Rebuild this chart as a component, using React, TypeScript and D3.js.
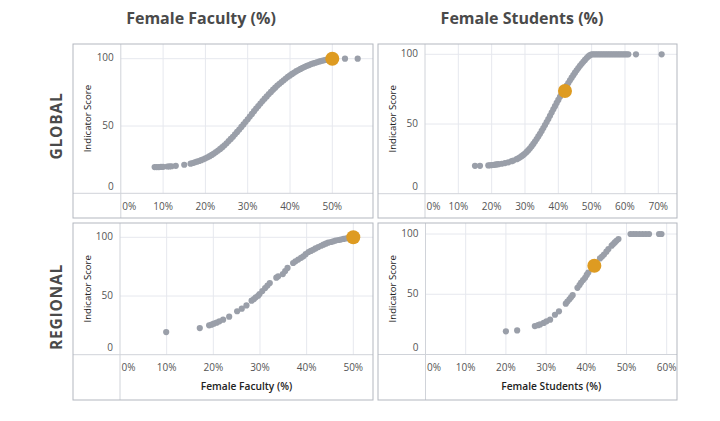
import React from 'react';
import * as d3 from 'd3';

// ---------- data ----------
const globalFacultyX = [8, 8.5, 9, 9.5, 10, 11, 11.5, 12, 13, 15, 16.5, 17, 17.5, 18, 18.5, 19, 19.5, 20, 20.5, 21, 21.5, 22, 22.5, 23, 23.5, 24, 24.5, 25, 25.5, 26, 26.5, 27, 27.5, 28, 28.5, 29, 29.5, 30, 30.5, 31, 31.5, 32, 32.5, 33, 33.5, 34, 34.5, 35, 35.5, 36, 36.5, 37, 37.5, 38, 38.5, 39, 39.5, 40, 40.5, 41, 41.5, 42, 42.5, 43, 43.5, 44, 44.5, 45, 45.5, 46, 46.5, 47, 47.5, 48, 48.5, 49, 49.5, 53, 56];
const globalFacultyY = [19.5, 19.5, 19.5, 19.6, 19.7, 19.9, 20, 20.1, 20.4, 21.2, 22, 22.5, 23, 23.5, 24, 24.6, 25.3, 26, 26.8, 27.6, 28.5, 29.5, 30.6, 31.8, 33, 34.3, 35.7, 37.2, 38.8, 40.4, 42, 43.8, 45.6, 47.4, 49.3, 51.2, 53.1, 55, 57, 59, 61, 63, 64.8, 66.7, 68.5, 70.3, 72, 73.7, 75.3, 77, 78.5, 80, 81.4, 82.7, 84, 85.3, 86.5, 87.6, 88.7, 89.7, 90.7, 91.6, 92.4, 93.2, 94, 94.7, 95.3, 96, 96.5, 97, 97.5, 98, 98.4, 98.8, 99.1, 99.4, 99.7, 100, 100];

const globalStudentsX = [15, 16.5, 19, 19.5, 20, 20.5, 21, 21.5, 22, 23, 24, 25, 26, 26.5, 27.5, 28, 28.5, 29, 29.5, 30, 30.5, 31, 31.5, 32, 32.5, 33, 33.5, 34, 34.5, 35, 35.5, 36, 36.5, 37, 37.5, 38, 38.5, 39, 39.5, 40, 40.5, 41, 41.5, 42.5, 43, 43.5, 44, 44.5, 45, 45.5, 46, 46.5, 47, 47.5, 48, 48.5, 49, 49.5, 50, 50.5, 51, 51.5, 52, 52.5, 53, 53.5, 54, 54.5, 55, 55.5, 56, 56.5, 57, 57.5, 58, 58.5, 59, 59.5, 60, 60.5, 61, 63.3, 71];
const globalStudentsY = [20, 20, 20.3, 20.4, 20.5, 20.6, 20.8, 21, 21.2, 21.5, 22, 22.5, 23.3, 23.8, 24.8, 25.4, 26.1, 26.9, 27.8, 28.8, 30, 31.2, 32.6, 34.1, 35.7, 37.4, 39.2, 41.1, 43, 45, 47.1, 49.2, 51.4, 53.6, 55.9, 58.2, 60.5, 62.8, 65.1, 67.3, 69.5, 71.6, 73.6, 77.5, 79.4, 81.3, 83.2, 85, 86.8, 88.5, 90.1, 91.7, 93.2, 94.6, 96, 97.3, 98.5, 99.4, 100, 100, 100, 100, 100, 100, 100, 100, 100, 100, 100, 100, 100, 100, 100, 100, 100, 100, 100, 100, 100, 100, 100, 100, 100];

const regionalFacultyX = [9.9, 17.1, 19.1, 19.6, 20.1, 20.7, 21.3, 22.1, 23.4, 25.1, 26.1, 27.1, 28.2, 28.7, 29.1, 29.6, 29.9, 30.5, 31.1, 31.6, 32.1, 33.5, 33.9, 34.9, 35.4, 35.9, 37.1, 37.6, 38.2, 38.8, 39.3, 39.8, 40.4, 40.9, 41.4, 41.9, 42.5, 43.1, 43.6, 44.1, 44.6, 45.2, 45.7, 46.2, 46.8, 47.3, 47.9, 48.5, 49.2];
const regionalFacultyY = [19.3, 22.7, 25, 25.6, 26.4, 27.3, 28.4, 29.8, 32.4, 37, 39.2, 42, 46, 47.4, 48.9, 50.2, 51.7, 54.2, 56.8, 58.9, 61, 65.6, 66.8, 68.7, 71.2, 73.9, 78.1, 79.5, 81, 82.5, 83.8, 85.6, 87.5, 88.4, 89.4, 90.5, 91.7, 92.8, 93.7, 94.6, 95.4, 96, 96.6, 97.2, 97.7, 98.1, 98.6, 99, 99.3];

const regionalStudentsX = [20, 22.8, 27.2, 28.0, 28.5, 29.4, 30.1, 31, 32.2, 33.2, 34.9, 35.3, 35.8, 36.2, 36.6, 37.8, 38.3, 38.7, 39.2, 39.7, 40.1, 40.5, 43.4, 43.9, 44.4, 45, 45.5, 46.3, 46.7, 47.1, 47.5, 48, 51, 51.7, 52.4, 53.2, 54, 54.8, 55.6, 58.1, 58.7];
const regionalStudentsY = [19.2, 20, 23.6, 24.3, 25, 26.2, 27.5, 28.9, 33, 35.8, 42.2, 44, 45.8, 47.5, 49.2, 55.3, 57.6, 59.7, 61.8, 63.6, 66, 68, 79.7, 81.3, 83, 85.3, 87.5, 90.3, 91.6, 93, 94.4, 95.8, 100, 100, 100, 100, 100, 100, 100, 100, 100];

// highlighted institution (orange) per panel
const highlightX = [50, 42, 50, 42];
const highlightY = [100, 73.7, 100, 73.6];

const facultyTicks = [0, 10, 20, 30, 40, 50];
const globalStudentTicks = [0, 10, 20, 30, 40, 50, 60, 70];
const regionalStudentTicks = [0, 10, 20, 30, 40, 50, 60];
const scoreTicks = [0, 50, 100];

const columnTitles = ['Female Faculty (%)', 'Female Students (%)'];
const rowTitles = ['GLOBAL', 'REGIONAL'];
const yAxisTitle = 'Indicator Score';

// ---------- layout ----------
const GRAY = '#9a9fa9';
const ORANGE = '#de9b21';
const GRID = '#e6e8ee';
const DIVIDER = '#d0d3d9';
const BORDER = '#b3b7bf';
const FONT = '"Open Sans", "DejaVu Sans", sans-serif';

type Panel = {
  box: [number, number, number, number];
  xMax: number; xRange: [number, number];
  yRange: [number, number];
  ticks: number[];
  xs: number[]; ys: number[];
  hi: number;
  xTitle: string | null;
};

const panels: Panel[] = [
  { box: [73, 44, 300, 174], xMax: 50, xRange: [120.8, 332.3], yRange: [193.3, 58.7], ticks: facultyTicks, xs: globalFacultyX, ys: globalFacultyY, hi: 0, xTitle: null },
  { box: [378, 44, 299, 174], xMax: 70, xRange: [425, 658.3], yRange: [193.7, 54.3], ticks: globalStudentTicks, xs: globalStudentsX, ys: globalStudentsY, hi: 1, xTitle: null },
  { box: [73, 223, 300, 177], xMax: 50, xRange: [120, 353.3], yRange: [354.7, 237.3], ticks: facultyTicks, xs: regionalFacultyX, ys: regionalFacultyY, hi: 2, xTitle: columnTitles[0] },
  { box: [378, 223, 299, 177], xMax: 60, xRange: [425.5, 666.7], yRange: [354.5, 234], ticks: regionalStudentTicks, xs: regionalStudentsX, ys: regionalStudentsY, hi: 3, xTitle: columnTitles[1] },
];

function PanelView({ p }: { p: Panel }) {
  const [bx, by, bw, bh] = p.box;
  const x = d3.scaleLinear().domain([0, p.xMax]).range(p.xRange);
  const y = d3.scaleLinear().domain([0, 100]).range(p.yRange);
  const ax = x(0);
  const ay = y(0);
  const right = bx + bw;
  const pts = d3.zip(p.xs, p.ys) as [number, number][];
  return (
    <g>
      {p.ticks.filter(t => t > 0).map(t => (
        <line key={'vx' + t} x1={x(t)} x2={x(t)} y1={by} y2={ay} stroke={GRID} strokeWidth={1} />
      ))}
      {scoreTicks.filter(t => t > 0).map(t => (
        <line key={'hy' + t} x1={ax} x2={right} y1={y(t)} y2={y(t)} stroke={GRID} strokeWidth={1} />
      ))}
      <line x1={ax} x2={ax} y1={by} y2={by + bh} stroke={DIVIDER} strokeWidth={1} />
      <line x1={bx} x2={right} y1={ay} y2={ay} stroke={DIVIDER} strokeWidth={1} />
      <rect x={bx} y={by} width={bw} height={bh} fill="none" stroke={BORDER} strokeWidth={1} />
      {p.ticks.map((t, i) => (
        <text key={'xl' + t} x={i === 0 ? x(t) + 1.5 : x(t)} y={ay + 14} textAnchor={i === 0 ? 'start' : 'middle'}
          dominantBaseline="middle" fontSize={10} fill="#555" fontFamily={FONT}>{t + '%'}</text>
      ))}
      {scoreTicks.map(t => (
        <text key={'yl' + t} x={ax - 7} y={t === 0 ? y(t) - 6 : y(t)} textAnchor="end" dominantBaseline="middle"
          fontSize={10} fill="#555" fontFamily={FONT}>{t}</text>
      ))}
      <text transform={`translate(${ax - 32},${(by + ay) / 2}) rotate(-90)`} textAnchor="middle" dominantBaseline="middle"
        fontSize={9.6} fill="#222" fontFamily={FONT}>{yAxisTitle}</text>
      {p.xTitle && (
        <text x={(ax + right) / 2} y={ay + 33} textAnchor="middle" dominantBaseline="middle" fontSize={10.2}
          fontWeight={600} fill="#222" fontFamily={FONT}>{p.xTitle}</text>
      )}
      {pts.map(([vx, vy], i) => (
        <circle key={i} cx={x(vx)} cy={y(vy)} r={3.1} fill={GRAY} />
      ))}
      <circle cx={x(highlightX[p.hi])} cy={y(highlightY[p.hi])} r={7} fill={ORANGE} />
    </g>
  );
}

export default function App() {
  return (
    <svg width={720} height={421} viewBox="0 0 720 421"
      style={{ position: 'absolute', left: 0, top: 0, background: '#fff' }}>
      <rect x={0} y={0} width={720} height={421} fill="#fff" />
      <text x={201} y={20} textAnchor="middle" dominantBaseline="middle" fontSize={16} fontWeight={700}
        fill="#4a4a4a" fontFamily={FONT}>{columnTitles[0]}</text>
      <text x={522} y={20} textAnchor="middle" dominantBaseline="middle" fontSize={16} fontWeight={700}
        fill="#4a4a4a" fontFamily={FONT}>{columnTitles[1]}</text>
      <text transform="translate(58,126) rotate(-90)" textAnchor="middle" dominantBaseline="middle" fontSize={15.5}
        fontWeight={700} fill="#4a4a4a" letterSpacing={0.8} fontFamily={FONT}>{rowTitles[0]}</text>
      <text transform="translate(58,307) rotate(-90)" textAnchor="middle" dominantBaseline="middle" fontSize={15.5}
        fontWeight={700} fill="#4a4a4a" letterSpacing={0.8} fontFamily={FONT}>{rowTitles[1]}</text>
      {panels.map((p, i) => <PanelView key={i} p={p} />)}
    </svg>
  );
}
